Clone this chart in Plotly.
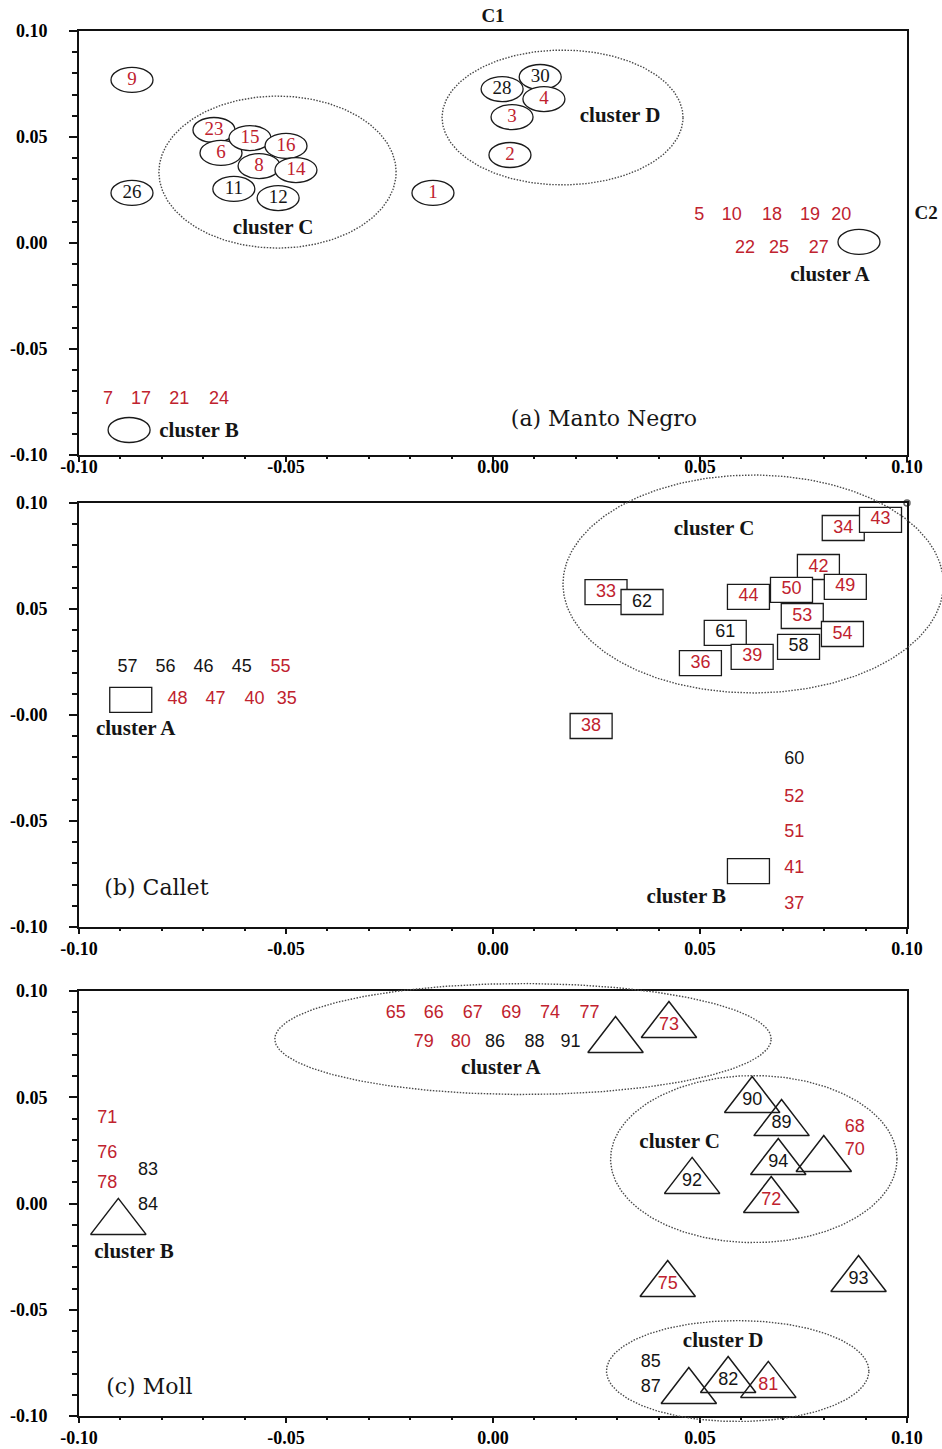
import numpy as np
import plotly.graph_objects as go

# ---------------- data ----------------
RED, BLACK = "#c0222e", "#151515"

# (a) Manto Negro: samples drawn as ellipses
A_LABELS = ["9", "26", "23", "6", "15", "16", "8", "14", "11", "12", "1",
            "30", "28", "4", "3", "2"]
A_X = [-0.0872, -0.0872, -0.0674, -0.0657, -0.0587, -0.0500, -0.0565, -0.0476,
       -0.0626, -0.0519, -0.0145, 0.0114, 0.0022, 0.0123, 0.0046, 0.0041]
A_Y = [0.0769, 0.0236, 0.0533, 0.0425, 0.0495, 0.0458, 0.0363, 0.0344,
       0.0255, 0.0212, 0.0236, 0.0783, 0.0726, 0.0679, 0.0594, 0.0415]
A_RED = [1, 0, 1, 1, 1, 1, 1, 1, 0, 0, 1, 0, 0, 1, 1, 1]
# samples listed next to a cluster symbol
A_FREE_LABELS = ["5", "10", "18", "19", "20", "22", "25", "27", "7", "17", "21", "24"]
A_FREE_X = [0.0498, 0.0577, 0.0674, 0.0766, 0.0841, 0.0609, 0.0691, 0.0787,
            -0.0930, -0.0850, -0.0758, -0.0662]
A_FREE_Y = [0.0132, 0.0132, 0.0132, 0.0132, 0.0132, -0.0024, -0.0024, -0.0024,
            -0.0736, -0.0736, -0.0736, -0.0736]
A_FREE_RED = [1] * 12
A_SYMBOL_X = [0.0884, -0.0879]
A_SYMBOL_Y = [0.0005, -0.0882]
A_CLUSTERS = {"cluster A": (0.0814, -0.0156), "cluster B": (-0.0710, -0.0892),
              "cluster C": (-0.0531, 0.0066), "cluster D": (0.0307, 0.0594)}
A_RINGS = [(-0.0807, -0.0234, -0.0024, 0.0693), (-0.0123, 0.0459, 0.0274, 0.0910)]
A_AXIS_NAMES = [("C1", 0.0, 0.1066), ("C2", 0.1046, 0.0137)]

# (b) Callet: samples drawn as boxes
B_LABELS = ["33", "62", "44", "42", "50", "49", "53", "54", "61", "58", "39",
            "36", "34", "43", "38"]
B_X = [0.0273, 0.0360, 0.0617, 0.0786, 0.0721, 0.0851, 0.0747, 0.0844,
       0.0561, 0.0738, 0.0626, 0.0501, 0.0846, 0.0936, 0.0237]
B_Y = [0.0580, 0.0533, 0.0557, 0.0698, 0.0590, 0.0604, 0.0467, 0.0382,
       0.0387, 0.0321, 0.0274, 0.0245, 0.0882, 0.0920, -0.0052]
B_RED = [1, 0, 1, 1, 1, 1, 1, 1, 0, 0, 1, 1, 1, 1, 1]
B_FREE_LABELS = ["57", "56", "46", "45", "55", "48", "47", "40", "35",
                 "60", "52", "51", "41", "37"]
B_FREE_X = [-0.0883, -0.0791, -0.0699, -0.0607, -0.0513, -0.0762, -0.0670,
            -0.0576, -0.0498, 0.0728, 0.0728, 0.0728, 0.0728, 0.0728]
B_FREE_Y = [0.0222, 0.0222, 0.0222, 0.0222, 0.0222, 0.0075, 0.0075, 0.0075,
            0.0075, -0.0208, -0.0387, -0.0552, -0.0722, -0.0892]
B_FREE_RED = [0, 0, 0, 0, 1, 1, 1, 1, 1, 0, 1, 1, 1, 1]
B_SYMBOL_X = [-0.0875, 0.0617]
B_SYMBOL_Y = [0.0071, -0.0736]
B_CLUSTERS = {"cluster A": (-0.0863, -0.0071), "cluster B": (0.0467, -0.0863),
              "cluster C": (0.0534, 0.0873)}
B_RINGS = [(0.0169, 0.1088, 0.0104, 0.1132)]
B_CORNER_X = [0.10]
B_CORNER_Y = [0.10]

# (c) Moll: samples drawn as triangles
C_LABELS = ["73", "90", "89", "94", "92", "72", "75", "93", "82", "81"]
C_X = [0.0425, 0.0626, 0.0697, 0.0689, 0.0481, 0.0672, 0.0422, 0.0883, 0.0568, 0.0665]
C_Y = [0.0838, 0.0485, 0.0376, 0.0193, 0.0104, 0.0014, -0.0381, -0.0358, -0.0833, -0.0856]
C_RED = [1, 0, 0, 0, 0, 1, 1, 0, 0, 1]
C_FREE_LABELS = ["65", "66", "67", "69", "74", "77", "79", "80", "86", "88", "91",
                 "68", "70", "71", "76", "78", "83", "84", "85", "87"]
C_FREE_X = [-0.0235, -0.0143, -0.0049, 0.0044, 0.0138, 0.0233,
            -0.0167, -0.0078, 0.0005, 0.0100, 0.0187,
            0.0874, 0.0874, -0.0932, -0.0932, -0.0932, -0.0833, -0.0833,
            0.0381, 0.0381]
C_FREE_Y = [0.0894, 0.0894, 0.0894, 0.0894, 0.0894, 0.0894,
            0.0758, 0.0758, 0.0758, 0.0758, 0.0758,
            0.0358, 0.0249, 0.0400, 0.0235, 0.0094, 0.0155, -0.0009,
            -0.0748, -0.0866]
C_FREE_RED = [1, 1, 1, 1, 1, 1, 1, 1, 0, 0, 0, 1, 1, 1, 1, 1, 0, 0, 0, 0]
C_SYMBOL_X = [0.0296, 0.0799, 0.0473, -0.0905]
C_SYMBOL_Y = [0.0767, 0.0207, -0.0885, -0.0089]
C_CLUSTERS = {"cluster A": (0.0019, 0.0635), "cluster B": (-0.0867, -0.0231),
              "cluster C": (0.0451, 0.0287), "cluster D": (0.0556, -0.0649)}
C_RINGS = [(-0.0527, 0.0672, 0.0513, 0.1035), (0.0284, 0.0976, -0.0184, 0.0602),
           (0.0274, 0.0908, -0.1026, -0.0551)]

PANEL_TITLES = [("(a) Manto Negro", 0.0268, -0.0835), ("(b) Callet", -0.0813, -0.0825),
                ("(c) Moll", -0.0830, -0.0871)]

TICK_VALS = [-0.10, -0.05, 0.0, 0.05, 0.10]
TICK_TEXT = ["-0.10", "-0.05", "0.00", "0.05", "0.10"]
TICK_TEXT_B_Y = ["-0.10", "-0.05", "-0.00", "0.05", "0.10"]

# ---------------- layout geometry (pixels) ----------------
W, H = 942, 1449
BOX_LEFT, BOX_RIGHT = 79, 907
PANEL_ROWS = [(31, 455), (503, 927), (991, 1416)]      # top, bottom of each frame
RING_PAD = 32                                           # room for rings past the frame
LO, HI = -0.1, 0.1
SX = (BOX_RIGHT - BOX_LEFT) / (HI - LO)
SY = [(b - t) / (HI - LO) for t, b in PANEL_ROWS]

MARK_W_PX, MARK_H_PX = 42, 25
SERIF = "Liberation Serif"
SANS = "Liberation Sans"


def colours(flags):
    return [RED if f else BLACK for f in flags]


fig = go.Figure()
shapes = []


def add_text(xs, ys, labels, cols, xa, ya, family, size, weight="normal"):
    fig.add_trace(go.Scatter(
        x=xs, y=ys, text=labels, mode="text", xaxis=xa, yaxis=ya,
        textfont=dict(family=family, size=size, color=cols, weight=weight),
        textposition="middle center", cliponaxis=False, hoverinfo="skip",
        showlegend=False))


def add_rings(rings, xa, ya):
    t = np.linspace(0, 2 * np.pi, 361)
    for x0, x1, y0, y1 in rings:
        cx, cy, rx, ry = (x0 + x1) / 2, (y0 + y1) / 2, (x1 - x0) / 2, (y1 - y0) / 2
        fig.add_trace(go.Scatter(
            x=cx + rx * np.cos(t), y=cy + ry * np.sin(t), mode="lines",
            xaxis=xa, yaxis=ya,
            line=dict(color="#4a4a4a", width=1.4, dash="1.5px,1.5px"),
            hoverinfo="skip", showlegend=False))


def add_clusters(clusters, xa, ya):
    names = list(clusters)
    add_text([clusters[n][0] for n in names], [clusters[n][1] for n in names], names,
             BLACK, xa, ya, SERIF, 21, "bold")


def box_shapes(xs, ys, xa, ya, sy, kind):
    hw, hh = MARK_W_PX / 2 / SX, MARK_H_PX / 2 / sy
    for x, y in zip(xs, ys):
        shapes.append(dict(type=kind, xref=xa, yref=ya,
                           x0=x - hw, x1=x + hw, y0=y - hh, y1=y + hh,
                           line=dict(color="#1a1a1a", width=1.3),
                           fillcolor="white", layer="below"))


# ---- panel (a)
box_shapes(A_X, A_Y, "x", "y", SY[0], "circle")
box_shapes(A_SYMBOL_X, A_SYMBOL_Y, "x", "y", SY[0], "circle")
add_rings(A_RINGS, "x4", "y4")
add_text(A_X, A_Y, A_LABELS, colours(A_RED), "x", "y", SERIF, 19)
add_text(A_FREE_X, A_FREE_Y, A_FREE_LABELS, colours(A_FREE_RED), "x", "y", SANS, 18)
add_clusters(A_CLUSTERS, "x", "y")
add_text([n[1] for n in A_AXIS_NAMES], [n[2] for n in A_AXIS_NAMES],
         [n[0] for n in A_AXIS_NAMES], BLACK, "x4", "y4", SERIF, 19, "bold")

# ---- panel (b)
box_shapes(B_X, B_Y, "x2", "y2", SY[1], "rect")
box_shapes(B_SYMBOL_X, B_SYMBOL_Y, "x2", "y2", SY[1], "rect")
add_rings(B_RINGS, "x5", "y5")
add_text(B_X, B_Y, B_LABELS, colours(B_RED), "x2", "y2", SANS, 18)
add_text(B_FREE_X, B_FREE_Y, B_FREE_LABELS, colours(B_FREE_RED), "x2", "y2", SANS, 18)
add_clusters(B_CLUSTERS, "x2", "y2")
fig.add_trace(go.Scatter(
    x=B_CORNER_X, y=B_CORNER_Y, mode="markers", xaxis="x2", yaxis="y2",
    marker=dict(symbol="circle-open", size=6, color="#666", line=dict(width=1.5)),
    cliponaxis=False, hoverinfo="skip", showlegend=False))

# ---- panel (c)
add_rings(C_RINGS, "x6", "y6")
tri = dict(symbol="triangle-up-open", size=48, color="#1a1a1a", line=dict(width=1.5))
fig.add_trace(go.Scatter(x=C_X, y=C_Y, mode="markers", xaxis="x3", yaxis="y3",
                         marker=tri, cliponaxis=False, hoverinfo="skip",
                         showlegend=False))
fig.add_trace(go.Scatter(x=C_SYMBOL_X, y=C_SYMBOL_Y, mode="markers", xaxis="x3",
                         yaxis="y3", marker=tri, cliponaxis=False,
                         hoverinfo="skip", showlegend=False))
add_text(C_X, C_Y, C_LABELS, colours(C_RED), "x3", "y3", SANS, 18)
add_text(C_FREE_X, C_FREE_Y, C_FREE_LABELS, colours(C_FREE_RED), "x3", "y3", SANS, 18)
add_clusters(C_CLUSTERS, "x3", "y3")

# ---- panel titles
for (title, tx, ty), (xa, ya) in zip(PANEL_TITLES, [("x", "y"), ("x2", "y2"), ("x3", "y3")]):
    add_text([tx], [ty], [title], BLACK, xa, ya, "DejaVu Serif", 22)

# ---------------- axes ----------------
tickfont = dict(family=SERIF, size=18, color="black", weight="bold")
X_DOMAIN = [BOX_LEFT / W, BOX_RIGHT / W]


def y_domain(top, bottom):
    return [1 - bottom / H, 1 - top / H]


def axis(domain, anchor, ticktext=TICK_TEXT, ticklen=8, standoff=0):
    return dict(range=[LO, HI], domain=domain, anchor=anchor, automargin=False,
                showline=True, linecolor="#111", linewidth=2,
                mirror=True, ticks="outside", ticklen=ticklen, tickwidth=2,
                tickcolor="#111", tickmode="array", tickvals=TICK_VALS,
                ticktext=ticktext, tickfont=tickfont, showgrid=False,
                zeroline=False, ticklabelstandoff=standoff,
                minor=dict(tickmode="linear", tick0=0, dtick=0.01, ticks="outside",
                           ticklen=ticklen - 3, tickwidth=1.5, tickcolor="#111",
                           showgrid=False))


def overlay_axes(top, bottom, sy):
    # invisible axes sharing the panel's scale but spanning a wider area,
    # so ring outlines and axis names can run past the frame
    t, b = max(top - RING_PAD, 0), min(bottom + RING_PAD, H)
    xr = [LO - BOX_LEFT / SX, HI + (W - BOX_RIGHT) / SX]
    yr = [LO - (b - bottom) / sy, HI + (top - t) / sy]
    common = dict(visible=False, automargin=False, showgrid=False, zeroline=False,
                  fixedrange=True)
    return (dict(range=xr, domain=[0, 1], **common),
            dict(range=yr, domain=y_domain(t, b), **common))


layout = dict(
    width=W, height=H, margin=dict(l=0, r=0, t=0, b=0),
    plot_bgcolor="rgba(0,0,0,0)", paper_bgcolor="white", showlegend=False,
    xaxis=axis(X_DOMAIN, "y", ticklen=5, standoff=-11),
    yaxis=axis(y_domain(*PANEL_ROWS[0]), "x", standoff=18),
    xaxis2=axis(X_DOMAIN, "y2", ticklen=5, standoff=-1),
    yaxis2=axis(y_domain(*PANEL_ROWS[1]), "x2", ticktext=TICK_TEXT_B_Y, standoff=18),
    xaxis3=axis(X_DOMAIN, "y3", ticklen=5, standoff=-1),
    yaxis3=axis(y_domain(*PANEL_ROWS[2]), "x3", standoff=18),
    shapes=shapes,
)
for k, ((top, bottom), sy) in enumerate(zip(PANEL_ROWS, SY)):
    xo, yo = overlay_axes(top, bottom, sy)
    layout[f"xaxis{k + 4}"] = dict(anchor=f"y{k + 4}", **xo)
    layout[f"yaxis{k + 4}"] = dict(anchor=f"x{k + 4}", **yo)

fig.update_layout(**layout)
fig.write_html("out.html")
